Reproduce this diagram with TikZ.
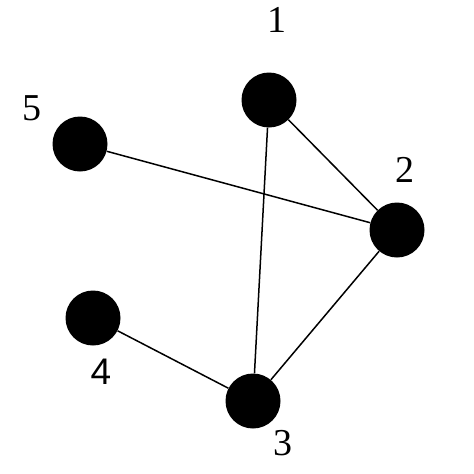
\documentclass[tikz,border=0pt]{standalone}
\usepackage{fontspec}
\setmainfont{Liberation Serif}
\newfontfamily\lsans{Liberation Sans}
\begin{document}
\begin{tikzpicture}[x=1pt,y=-1pt,
  vtx/.style={circle,fill=black,minimum size=55pt,inner sep=0pt},
  lbl/.style={inner sep=0pt,font=\fontsize{38}{42}\selectfont},
  edge/.style={line width=1.5pt}]
\useasboundingbox (0,0) rectangle (474,474);
\node[vtx] (n1) at (269,100) {};
\node[vtx] (n2) at (397,230) {};
\node[vtx] (n3) at (253,401) {};
\node[vtx] (n4) at (93,318) {};
\node[vtx] (n5) at (80,144) {};
\node[lbl] (l1) at (277,20) {1};
\node[lbl] (l2) at (405,170) {2};
\node[lbl] (l3) at (283,443) {3};
\node[lbl,font=\lsans\fontsize{37}{42}\selectfont] (l4) at (101,372) {4};
\node[lbl] (l5) at (32,108) {5};
\draw[edge] (n1) -- (n2);
\draw[edge] (n1) -- (n3);
\draw[edge] (n5) -- (n2);
\draw[edge] (n2) -- (n3);
\draw[edge] (n4) -- (n3);
\end{tikzpicture}
\end{document}
